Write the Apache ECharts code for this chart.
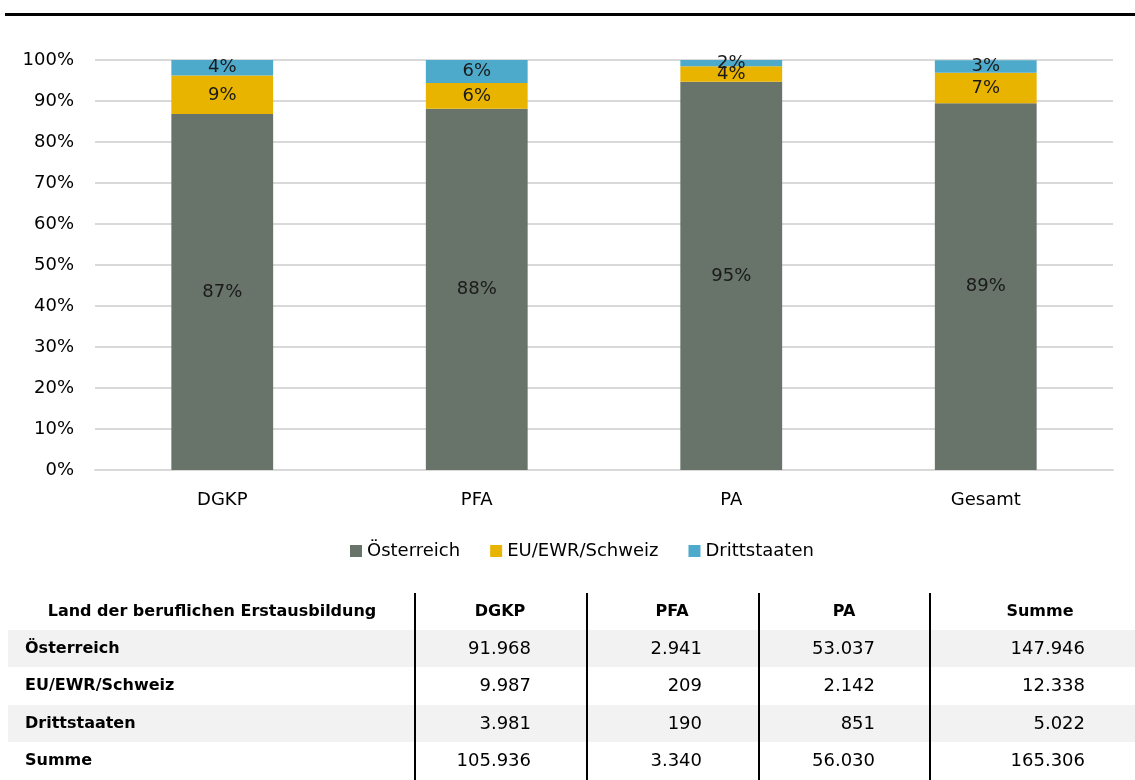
<!DOCTYPE html>
<html><head><meta charset="utf-8">
<script src="https://cdn.jsdelivr.net/npm/echarts@6/dist/echarts.min.js"></script>
<style>html,body{margin:0;padding:0;background:#fff}#c{width:1135px;height:780px}</style>
</head><body><div id="c"></div>
<script>
// Chart data (shares in %)
const categories = ['DGKP', 'PFA', 'PA', 'Gesamt'];
const seriesNames = ['Österreich', 'EU/EWR/Schweiz', 'Drittstaaten'];
const oesterreich = [86.8, 88.1, 94.7, 89.45];
const euEwr = [9.4, 6.3, 3.8, 7.47];
const drittstaaten = [3.8, 5.7, 1.5, 3.04];
const yTicks = [0, 10, 20, 30, 40, 50, 60, 70, 80, 90, 100];

// Table data
const tableHeader = ['Land der beruflichen Erstausbildung', 'DGKP', 'PFA', 'PA', 'Summe'];
const tableRowLabels = ['Österreich', 'EU/EWR/Schweiz', 'Drittstaaten', 'Summe'];
const tableDGKP = ['91.968', '9.987', '3.981', '105.936'];
const tablePFA = ['2.941', '209', '190', '3.340'];
const tablePA = ['53.037', '2.142', '851', '56.030'];
const tableSumme = ['147.946', '12.338', '5.022', '165.306'];

const colors = ['#68736a', '#e8b400', '#4eaacb'];
const FONT = 'DejaVu Sans';

const chart = echarts.init(document.getElementById('c'));

const seriesData = [oesterreich, euEwr, drittstaaten];
const series = seriesNames.map((n, i) => ({
  name: n, type: 'bar', stack: 'a', barWidth: '40%',
  data: seriesData[i],
  itemStyle: { color: colors[i] },
  label: { show: true, position: 'inside', color: '#1a1a1a', fontFamily: FONT, fontSize: 18,
    formatter: p => Math.round(p.value) + '%' }
}));

// table graphics
const g = [];
g.push({ type: 'rect', shape: { x: 5, y: 13, width: 1130, height: 3 }, style: { fill: '#000' } });
const rowY = [612, 649, 686, 724, 761];
const bands = [[630, 37], [705, 37]];
bands.forEach(b => g.push({ type: 'rect', shape: { x: 8, y: b[0], width: 1127, height: b[1] }, style: { fill: '#f2f2f2' }, z: 1 }));
[415, 587, 759, 930].forEach(x => g.push({ type: 'rect', shape: { x: x - 1, y: 593, width: 2, height: 187 }, style: { fill: '#000' }, z: 3 }));
const headX = [212, 500, 672, 844, 1040];
tableHeader.forEach((t, i) => g.push({ type: 'text', x: headX[i], y: rowY[0], z: 5,
  style: { text: t, fontFamily: FONT, fontSize: 16, fontWeight: 'bold', fill: '#000', textAlign: 'center', textVerticalAlign: 'middle' } }));
const cols = [tableDGKP, tablePFA, tablePA, tableSumme];
const rightX = [531, 702, 875, 1085];
tableRowLabels.forEach((t, r) => {
  g.push({ type: 'text', x: 25, y: rowY[r + 1], z: 5,
    style: { text: t, fontFamily: FONT, fontSize: 16, fontWeight: 'bold', fill: '#000', textAlign: 'left', textVerticalAlign: 'middle' } });
  cols.forEach((c, ci) => g.push({ type: 'text', x: rightX[ci], y: rowY[r + 1], z: 5,
    style: { text: c[r], fontFamily: FONT, fontSize: 18, fill: '#000', textAlign: 'right', textVerticalAlign: 'middle' } }));
});

chart.setOption({
  animation: false,
  color: colors,
  grid: { left: 95, right: 22, top: 60, bottom: 310, containLabel: false },
  legend: { data: seriesNames, left: 345, top: 537, icon: 'rect', itemWidth: 12, itemHeight: 12, itemGap: 30,
    textStyle: { fontFamily: FONT, fontSize: 18, color: '#000' } },
  xAxis: { type: 'category', data: categories,
    axisLine: { show: true, lineStyle: { color: '#d9d9d9', width: 2 } }, axisTick: { show: false },
    axisLabel: { fontFamily: FONT, fontSize: 18, color: '#000', margin: 21 } },
  yAxis: { type: 'value', min: 0, max: 100, interval: 10,
    axisLine: { show: false }, axisTick: { show: false },
    splitLine: { lineStyle: { color: '#d9d9d9', width: 2 } },
    axisLabel: { fontFamily: FONT, fontSize: 18, color: '#000', margin: 21,
      formatter: v => yTicks.includes(v) ? v + '%' : '' } },
  series: series,
  graphic: g
});
</script></body></html>
